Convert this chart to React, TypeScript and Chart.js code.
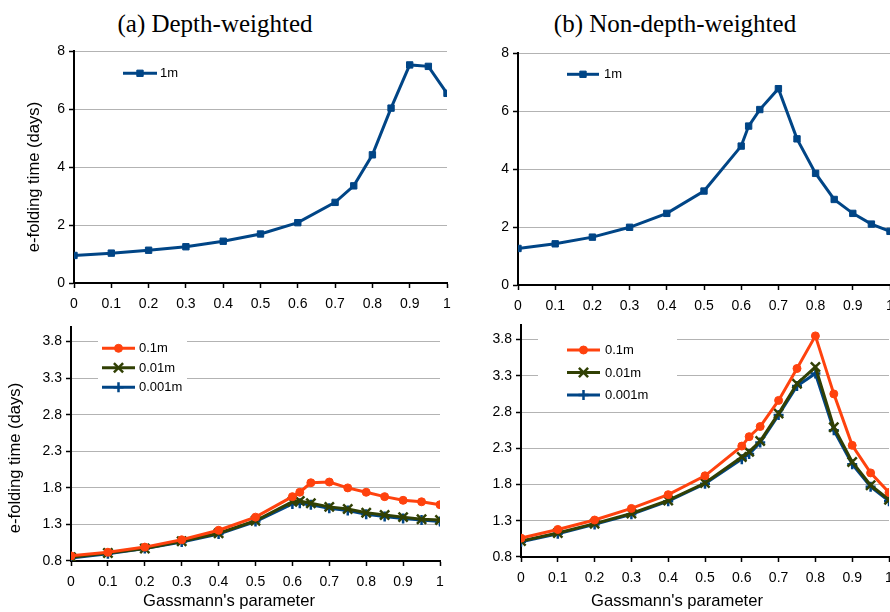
import React, { useEffect, useRef } from 'react';
import { Chart, registerables } from 'chart.js';
import * as helpers from 'chart.js/helpers';

Chart.register(...registerables);
Chart.defaults.font.family = "'Liberation Sans', Arial, sans-serif";

// ---------- data ----------
const G_DEPTH_1M = [0, 0.1, 0.2, 0.3, 0.4, 0.5, 0.6, 0.7, 0.75, 0.8, 0.85, 0.9, 0.95, 1];
const T_DEPTH_1M = [0.95, 1.03, 1.13, 1.25, 1.44, 1.69, 2.08, 2.78, 3.35, 4.42, 6.03, 7.52, 7.47, 6.54];

const G_NONDEPTH_1M = [0, 0.1, 0.2, 0.3, 0.4, 0.5, 0.6, 0.62, 0.65, 0.7, 0.75, 0.8, 0.85, 0.9, 0.95, 1];
const T_NONDEPTH_1M = [1.26, 1.42, 1.65, 1.99, 2.47, 3.24, 4.79, 5.48, 6.05, 6.77, 5.04, 3.85, 2.95, 2.47, 2.1, 1.85];

const G_SMALL = [0, 0.1, 0.2, 0.3, 0.4, 0.5, 0.6, 0.62, 0.65, 0.7, 0.75, 0.8, 0.85, 0.9, 0.95, 1];
const T_DEPTH_01M = [0.87, 0.92, 0.99, 1.09, 1.22, 1.4, 1.68, 1.74, 1.87, 1.88, 1.8, 1.74, 1.68, 1.63, 1.61, 1.57];
const T_DEPTH_001M = [0.85, 0.91, 0.97, 1.07, 1.18, 1.35, 1.61, 1.62, 1.59, 1.54, 1.51, 1.46, 1.43, 1.4, 1.37, 1.36];
const T_DEPTH_0001M = [0.84, 0.9, 0.97, 1.06, 1.17, 1.34, 1.58, 1.59, 1.57, 1.52, 1.49, 1.44, 1.41, 1.38, 1.36, 1.34];
const T_NONDEPTH_01M = [1.06, 1.18, 1.31, 1.47, 1.66, 1.92, 2.33, 2.46, 2.6, 2.96, 3.4, 3.85, 3.05, 2.34, 1.96, 1.69];
const T_NONDEPTH_001M = [1.02, 1.13, 1.26, 1.4, 1.58, 1.82, 2.18, 2.25, 2.4, 2.78, 3.19, 3.42, 2.59, 2.11, 1.79, 1.59];
const T_NONDEPTH_0001M = [1.01, 1.12, 1.25, 1.39, 1.57, 1.81, 2.15, 2.22, 2.38, 2.76, 3.16, 3.33, 2.55, 2.08, 1.77, 1.57];

const X_TICK_VALUES = [0, 0.1, 0.2, 0.3, 0.4, 0.5, 0.6, 0.7, 0.8, 0.9, 1];
const X_TICK_LABELS = ['0', '0.1', '0.2', '0.3', '0.4', '0.5', '0.6', '0.7', '0.8', '0.9', '1'];
const Y_TOP_TICK_VALUES = [0, 2, 4, 6, 8];
const Y_TOP_TICK_LABELS = ['0', '2', '4', '6', '8'];
const Y_BOTTOM_TICK_VALUES = [0.8, 1.3, 1.8, 2.3, 2.8, 3.3, 3.8];
const Y_BOTTOM_TICK_LABELS = ['0.8', '1.3', '1.8', '2.3', '2.8', '3.3', '3.8'];

const PANEL_TITLES = ['(a) Depth-weighted', '(b) Non-depth-weighted'];
const Y_TITLE = 'e-folding time (days)';
const X_TITLE = "Gassmann's parameter";

// ---------- styles ----------
const BLUE = '#004586';
const ORANGE = '#ff420e';
const OLIVE = '#314004';
const GRID = '#b3b3b3';
const TITLE_FONT_SIZE = 16.6;
const TITLE_LH = TITLE_FONT_SIZE * 1.2;

function pts(xs: number[], ys: number[]) {
  return xs.map((x, i) => ({ x, y: ys[i] }));
}

function series(label: string, xs: number[], ys: number[], color: string, style: string, radius: number, pbw: number) {
  return {
    label,
    data: pts(xs, ys),
    borderColor: color,
    backgroundColor: color,
    borderWidth: 3,
    pointStyle: style,
    pointRadius: radius,
    pointHoverRadius: radius,
    pointBorderWidth: pbw,
    pointBackgroundColor: color,
    pointBorderColor: color,
    tension: 0,
  };
}

const insideLegend = {
  id: 'insideLegend',
  afterDatasetsDraw(chart: any, _args: any, opts: any) {
    if (!opts || !opts.box) return;
    const { ctx } = chart;
    ctx.save();
    ctx.fillStyle = '#ffffff';
    ctx.fillRect(opts.box.x, opts.box.y, opts.box.w, opts.box.h);
    chart.data.datasets.forEach((ds: any, i: number) => {
      const y = opts.y + i * opts.gap;
      ctx.strokeStyle = ds.borderColor;
      ctx.lineWidth = ds.borderWidth;
      ctx.lineCap = 'butt';
      ctx.beginPath();
      ctx.moveTo(opts.x, y);
      ctx.lineTo(opts.x + opts.len, y);
      ctx.stroke();
      ctx.fillStyle = ds.pointBackgroundColor;
      ctx.strokeStyle = ds.pointBorderColor;
      ctx.lineWidth = ds.pointBorderWidth;
      helpers.drawPoint(ctx, { pointStyle: ds.pointStyle, radius: ds.pointRadius, rotation: 0, borderWidth: ds.pointBorderWidth }, opts.x + opts.len / 2, y);
      ctx.fillStyle = '#000';
      ctx.font = `${opts.fontSize}px 'Liberation Sans', Arial, sans-serif`;
      ctx.textBaseline = 'middle';
      ctx.textAlign = 'left';
      ctx.fillText(ds.label, opts.x + opts.len + opts.textGap, y + 0.5);
    });
    ctx.restore();
  },
};

type Panel = {
  left: number; top: number; width: number; height: number;
  area: { left: number; top: number; right: number; bottom: number };
  yTitleCenter?: number;
  xTitle: boolean;
  yMin: number; yMax: number; yTicks: number[]; yLabels: string[];
  datasets: any[];
  legend: any;
};

const PANELS: Panel[] = [
  {
    left: 0, top: 36, width: 462, height: 282,
    area: { left: 74, top: 51, right: 447, bottom: 283 },
    yTitleCenter: 34, xTitle: false,
    yMin: 0, yMax: 8, yTicks: Y_TOP_TICK_VALUES, yLabels: Y_TOP_TICK_LABELS,
    datasets: [series('1m', G_DEPTH_1M, T_DEPTH_1M, BLUE, 'rect', 4.5, 1)],
    legend: { box: { x: 116, y: 62, w: 70, h: 23 }, x: 123, y: 73.3, gap: 0, len: 34, textGap: 3 },
  },
  {
    left: 450, top: 36, width: 450, height: 282,
    area: { left: 518, top: 53, right: 890, bottom: 285 },
    xTitle: false,
    yMin: 0, yMax: 8, yTicks: Y_TOP_TICK_VALUES, yLabels: Y_TOP_TICK_LABELS,
    datasets: [series('1m', G_NONDEPTH_1M, T_NONDEPTH_1M, BLUE, 'rect', 4.5, 1)],
    legend: { box: { x: 558, y: 63, w: 75, h: 23 }, x: 567, y: 74.3, gap: 0, len: 32, textGap: 5 },
  },
  {
    left: 0, top: 304, width: 458, height: 308,
    area: { left: 71, top: 327, right: 440, bottom: 561 },
    yTitleCenter: 15, xTitle: true,
    yMin: 0.8, yMax: 4.0, yTicks: Y_BOTTOM_TICK_VALUES, yLabels: Y_BOTTOM_TICK_LABELS,
    datasets: [
      series('0.1m', G_SMALL, T_DEPTH_01M, ORANGE, 'circle', 4, 1),
      series('0.01m', G_SMALL, T_DEPTH_001M, OLIVE, 'crossRot', 6.5, 2.5),
      series('0.001m', G_SMALL, T_DEPTH_0001M, BLUE, 'cross', 5, 2.5),
    ],
    legend: { box: { x: 98, y: 334, w: 89, h: 64 }, x: 102, y: 348.3, gap: 19.5, len: 33, textGap: 4 },
  },
  {
    left: 450, top: 304, width: 454, height: 308,
    area: { left: 521, top: 325, right: 889, bottom: 557 },
    xTitle: true,
    yMin: 0.8, yMax: 4.0, yTicks: Y_BOTTOM_TICK_VALUES, yLabels: Y_BOTTOM_TICK_LABELS,
    datasets: [
      series('0.1m', G_SMALL, T_NONDEPTH_01M, ORANGE, 'circle', 4, 1),
      series('0.01m', G_SMALL, T_NONDEPTH_001M, OLIVE, 'crossRot', 6.5, 2.5),
      series('0.001m', G_SMALL, T_NONDEPTH_0001M, BLUE, 'cross', 5, 2.5),
    ],
    legend: { box: { x: 538, y: 331, w: 139, h: 76 }, x: 567, y: 350, gap: 22.5, len: 33, textGap: 5 },
  },
];

function buildConfig(p: Panel): any {
  const yTitlePadTop = p.yTitleCenter !== undefined ? p.yTitleCenter - p.left - TITLE_LH / 2 : 0;
  const yTitlePadBottom = 2;
  const yTitleW = p.yTitleCenter !== undefined ? TITLE_LH + yTitlePadTop + yTitlePadBottom : 0;
  const xTitleH = p.xTitle ? TITLE_LH + 1 : 0;
  const lg = p.legend;
  const legendOpts = {
    box: { x: lg.box.x - p.left, y: lg.box.y - p.top, w: lg.box.w, h: lg.box.h },
    x: lg.x - p.left, y: lg.y - p.top, gap: lg.gap, len: lg.len, textGap: lg.textGap, fontSize: 13,
  };
  return {
    type: 'line',
    data: { datasets: p.datasets },
    plugins: [insideLegend],
    options: {
      responsive: false,
      maintainAspectRatio: false,
      animation: false,
      events: [],
      layout: { padding: 0 },
      plugins: {
        legend: { display: false },
        tooltip: { enabled: false },
        title: {
          display: p.yTitleCenter !== undefined,
          position: 'left',
          text: Y_TITLE,
          color: '#000',
          font: { size: TITLE_FONT_SIZE, weight: 'normal', lineHeight: 1.2 },
          padding: { top: yTitlePadTop, bottom: yTitlePadBottom },
        },
        subtitle: {
          display: p.xTitle,
          position: 'bottom',
          text: X_TITLE,
          color: '#000',
          font: { size: TITLE_FONT_SIZE, weight: 'normal', lineHeight: 1.2 },
          padding: { top: 0, bottom: 1 },
        },
        insideLegend: legendOpts,
      },
      scales: {
        x: {
          type: 'linear',
          min: 0,
          max: 1,
          afterBuildTicks: (s: any) => { s.ticks = X_TICK_VALUES.map((v) => ({ value: v })); },
          afterFit: (s: any) => {
            s.height = p.top + p.height - xTitleH - p.area.bottom;
            s.paddingLeft = 0;
            s.paddingRight = p.left + p.width - p.area.right;
          },
          ticks: {
            autoSkip: false,
            maxRotation: 0,
            color: '#000',
            padding: 8,
            font: { size: 14 },
            callback: (_v: any, i: number) => X_TICK_LABELS[i],
          },
          grid: { drawOnChartArea: false, drawTicks: true, tickLength: 5, tickColor: '#000', tickWidth: 1.5 },
          border: { display: true, color: '#000', width: 2 },
        },
        y: {
          type: 'linear',
          min: p.yMin,
          max: p.yMax,
          afterBuildTicks: (s: any) => { s.ticks = p.yTicks.map((v) => ({ value: v })); },
          afterFit: (s: any) => {
            s.width = p.area.left - p.left - yTitleW;
            s.paddingTop = p.area.top - p.top;
            s.paddingBottom = 0;
          },
          ticks: {
            autoSkip: false,
            color: '#000',
            padding: 4,
            font: { size: 14 },
            callback: (_v: any, i: number) => p.yLabels[i],
          },
          grid: { color: GRID, lineWidth: 1, drawTicks: true, tickLength: 5, tickColor: '#000', tickWidth: 1.5 },
          border: { display: true, color: '#000', width: 2 },
        },
      },
    },
  };
}

function PanelChart({ panel }: { panel: Panel }) {
  const ref = useRef<HTMLCanvasElement | null>(null);
  useEffect(() => {
    if (!ref.current) return;
    const chart = new Chart(ref.current, buildConfig(panel));
    return () => chart.destroy();
  }, [panel]);
  return (
    <canvas
      ref={ref}
      width={panel.width}
      height={panel.height}
      style={{ position: 'absolute', left: panel.left, top: panel.top, width: panel.width, height: panel.height }}
    />
  );
}

const titleStyle: React.CSSProperties = {
  position: 'absolute',
  top: 11,
  width: 400,
  textAlign: 'center',
  fontFamily: "'Liberation Serif', 'Times New Roman', serif",
  fontSize: 25,
  lineHeight: '25px',
  color: '#000',
  whiteSpace: 'nowrap',
};

export default function App() {
  return (
    <div style={{ position: 'absolute', left: 0, top: 0, width: 890, height: 612, overflow: 'hidden', background: '#fff' }}>
      <div style={{ ...titleStyle, left: 215 - 200 }}>{PANEL_TITLES[0]}</div>
      <div style={{ ...titleStyle, left: 675 - 200 }}>{PANEL_TITLES[1]}</div>
      {PANELS.map((p, i) => (
        <PanelChart key={i} panel={p} />
      ))}
    </div>
  );
}
